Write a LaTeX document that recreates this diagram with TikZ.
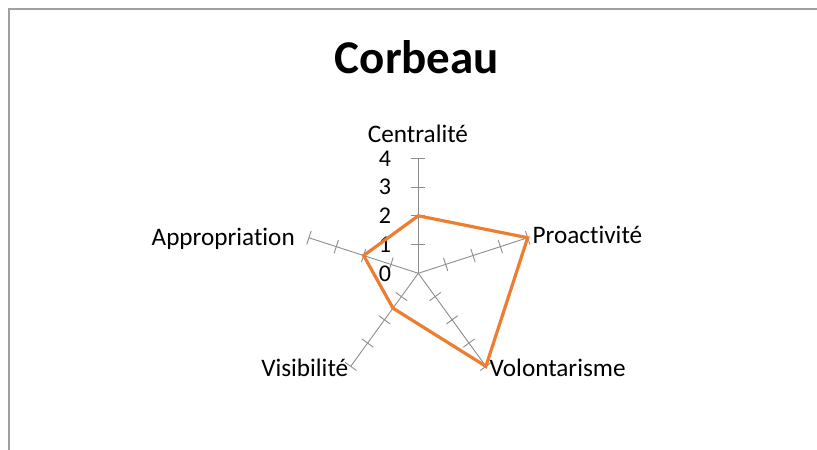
\documentclass[tikz,border=0pt]{standalone}
\usepackage{fontspec}
\setmainfont[Ligatures=NoCommon]{Carlito}
\definecolor{axisgray}{HTML}{8C8C8C}
\definecolor{framegray}{HTML}{A0A0A0}
\definecolor{seriesorange}{HTML}{ED7D31}
\begin{document}
\begin{tikzpicture}[x=1pt,y=1pt,
  axisline/.style={draw=axisgray,line width=0.9pt},
  tickline/.style={draw=axisgray,line width=0.9pt},
  series/.style={draw=seriesorange,line width=3.2pt,line join=miter},
  catlabel/.style={inner sep=0pt,font=\fontsize{25.2}{30}\selectfont},
  numlabel/.style={inner sep=0pt,anchor=east,font=\fontsize{24}{28}\selectfont},
  titletext/.style={inner sep=0pt,font=\fontsize{47}{56}\selectfont\bfseries}]
\useasboundingbox (0,0) rectangle (817,450);
\draw[framegray,line width=2pt] (9,-20) -- (9,440.5) -- (840,440.5);
\node[titletext,anchor=base] (title) at (417,376) {Corbeau};
\begin{scope}[shift={(418.3,176.7)}]
  \coordinate (c) at (0,0);
  \coordinate (eC) at (90:115);
  \coordinate (eP) at (18:115);
  \coordinate (eVo) at (-54:115);
  \coordinate (eVi) at (234:115);
  \coordinate (eA) at (162:115);
  \foreach \e in {eC,eP,eVo,eVi,eA} \draw[axisline] (c) -- (\e);
  \foreach \a in {90,18,-54,234,162} {
    \foreach \r in {28.75,57.5,86.25,115} {
      \draw[tickline] ([shift={(\a+90:7)}]\a:\r) -- ([shift={(\a-90:7)}]\a:\r);
    }
  }
  \foreach \k in {0,1,2,3,4} {
    \node[numlabel] (n\k) at (-27,\k*28.75) {\k};
  }
  \coordinate (dC) at (90:57.5);
  \coordinate (dP) at (18:115);
  \coordinate (dVo) at (-54:115);
  \coordinate (dVi) at (234:43.1);
  \coordinate (dA) at (162:57.5);
  \draw[series] (dC) -- (dP) -- (dVo) -- (dVi) -- (dA) -- cycle;
\end{scope}
\node[catlabel,anchor=base] (lC) at (418,307.3) {Centralité};
\node[catlabel,anchor=base west] (lP) at (532.5,206.7) {Proactivité};
\node[catlabel,anchor=base west] (lVo) at (489.5,73) {Volontarisme};
\node[catlabel,anchor=base east] (lVi) at (348.5,73.3) {Visibilité};
\node[catlabel,anchor=base east] (lA) at (295,204) {Appropriation};
\end{tikzpicture}
\end{document}
